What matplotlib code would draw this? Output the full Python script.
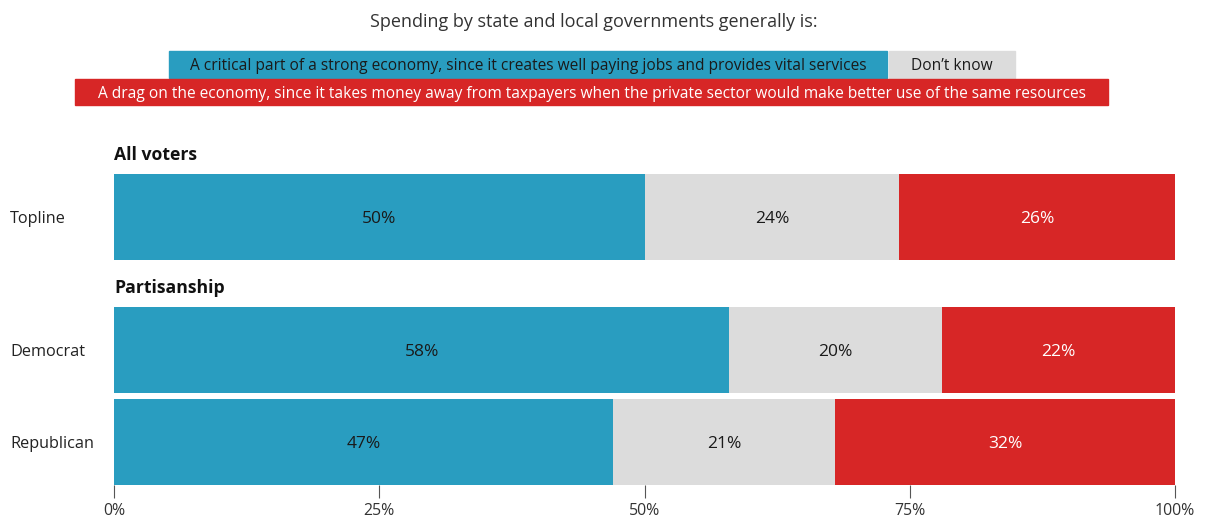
import matplotlib
matplotlib.use("Agg")
import matplotlib.pyplot as plt
from matplotlib.patches import Rectangle

plt.rcParams['font.family'] = ['Open Sans', 'DejaVu Sans']

# Survey answers
title = "Spending by state and local governments generally is:"
answers = [
    "A critical part of a strong economy, since it creates well paying jobs and provides vital services",
    "Don\u2019t know",
    "A drag on the economy, since it takes money away from taxpayers when the private sector would make better use of the same resources",
]
colors = ["#299DC0", "#DCDCDC", "#D72626"]
text_colors = ["#1a1a1a", "#1a1a1a", "#ffffff"]

groups = ["All voters", "Partisanship"]
rows = ["Topline", "Democrat", "Republican"]
critical = [50, 58, 47]
dont_know = [24, 20, 21]
drag = [26, 22, 32]

xticks = [0, 25, 50, 75, 100]
xtick_labels = ["0%", "25%", "50%", "75%", "100%"]

W, H = 1206, 518
fig = plt.figure(figsize=(W / 100, H / 100), dpi=100)

def fx(px):
    return px / W

def fy(py):
    return 1 - py / H

# Plot area in pixel terms
left, right, top, bottom = 114, 1175, 174, 485
ax = fig.add_axes([fx(left), fy(bottom), fx(right - left), (bottom - top) / H])

# vertical layout of rows (in data units; one unit per row step)
row_y = [2.446, 1.0, 0.0]
bar_h = 86 / 92
ax.set_xlim(0, 100)
ax.set_ylim(-bar_h / 2, row_y[0] + bar_h / 2)

series = [critical, dont_know, drag]
for i, name in enumerate(rows):
    start = 0
    for s, vals in enumerate(series):
        v = vals[i]
        ax.barh(row_y[i], v, left=start, height=bar_h, color=colors[s],
                edgecolor="none")
        ax.text(start + v / 2, row_y[i], f"{v}%", ha="center",
                va="center_baseline", fontsize=12.5, color=text_colors[s])
        start += v
    fig.text(fx(10), ax.transData.transform((0, row_y[i]))[1] / H, name,
             ha="left", va="center_baseline", fontsize=11.7, color="#222222")

# group headers
for g, y in zip(groups, [155, 288]):
    fig.text(fx(114), fy(y), g, ha="left", va="center", fontsize=12.7,
             fontweight="bold", color="#111111")

for sp in ax.spines.values():
    sp.set_visible(False)
ax.set_yticks([])
ax.set_xticks(xticks)
ax.set_xticklabels(xtick_labels, fontsize=11.4, color="#333333")
ax.tick_params(axis="x", length=9, width=0.8, color="#555555", pad=4)

# title and answer key
fig.text(fx(594), fy(20), title, ha="center", va="center_baseline",
         fontsize=13, color="#333333")

key_boxes = [(169, 51, 718, 27), (889, 51, 126, 27), (75, 79, 1033, 26)]
key_sizes = [11.2, 11.2, 11.2]
for (x0, y0, w, h), lab, c, tc, fs in zip(key_boxes, answers, colors,
                                          text_colors, key_sizes):
    fig.patches.append(Rectangle((fx(x0), fy(y0 + h)), w / W, h / H,
                                 transform=fig.transFigure, color=c,
                                 zorder=0))
    fig.text(fx(x0 + w / 2), fy(y0 + h / 2), lab, ha="center",
             va="center_baseline", fontsize=fs, color=tc)

fig.savefig("out.png", dpi=100)
